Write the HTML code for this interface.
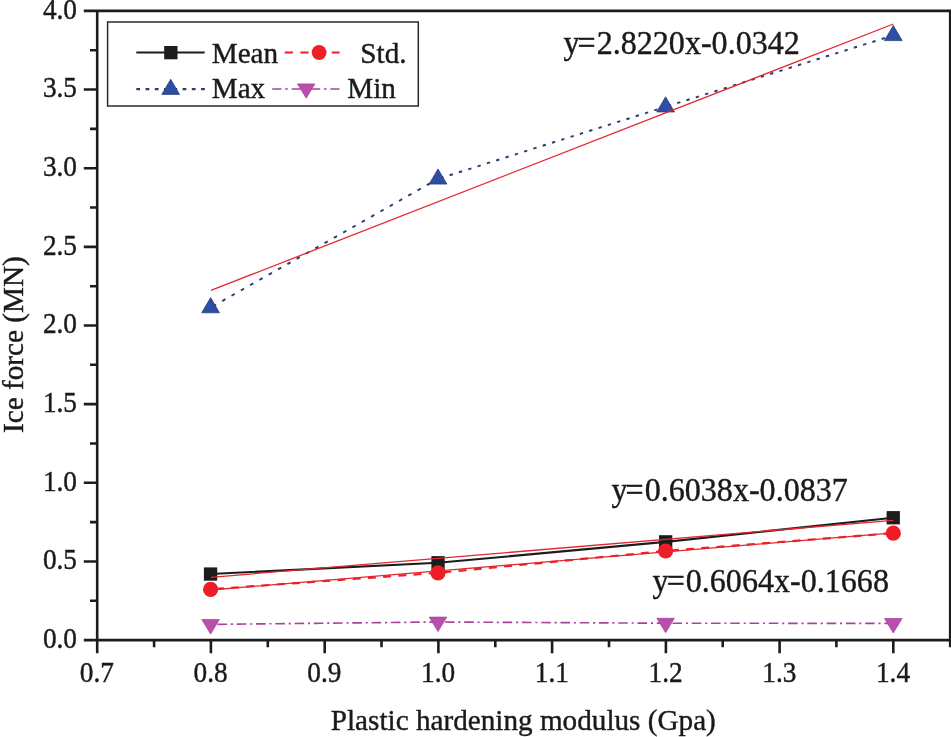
<!DOCTYPE html><html><head><meta charset="utf-8"><title>Ice force vs plastic hardening modulus</title>
<style>html,body{margin:0;padding:0;background:#fff}svg{display:block;will-change:transform}text{font-family:"Liberation Serif","DejaVu Serif",serif;fill:#1a1a1a;stroke:#1a1a1a;stroke-width:.4px}</style></head><body>
<svg width="951" height="737" viewBox="0 0 951 737">
<rect width="951" height="737" fill="#fff"/>
<g stroke="#1c1c1c" stroke-width="2.6" fill="none" stroke-linecap="butt">
<path d="M83.8 10.9H951 M83.8 640.1H951 M97.2 9.6V653.2 M950.2 9.6V647.2"/>
<path d="M83.8 561.5H97.2 M83.8 482.8H97.2 M83.8 404.1H97.2 M83.8 325.5H97.2 M83.8 246.9H97.2 M83.8 168.2H97.2 M83.8 89.5H97.2 M90 600.8H97.2 M90 522.1H97.2 M90 443.5H97.2 M90 364.8H97.2 M90 286.2H97.2 M90 207.5H97.2 M90 128.9H97.2 M90 50.2H97.2 M210.9 640.1V653.2 M324.7 640.1V653.2 M438.4 640.1V653.2 M552.1 640.1V653.2 M665.9 640.1V653.2 M779.6 640.1V653.2 M893.3 640.1V653.2 M154.1 640.1V647.2 M267.8 640.1V647.2 M381.5 640.1V647.2 M495.3 640.1V647.2 M609.0 640.1V647.2 M722.7 640.1V647.2 M836.4 640.1V647.2 "/>
</g>
<text transform="translate(77.0 648.0) scale(1 1.045)" font-size="27.3px" text-anchor="end">0.0</text>
<text transform="translate(77.0 569.4) scale(1 1.045)" font-size="27.3px" text-anchor="end">0.5</text>
<text transform="translate(77.0 490.7) scale(1 1.045)" font-size="27.3px" text-anchor="end">1.0</text>
<text transform="translate(77.0 412.0) scale(1 1.045)" font-size="27.3px" text-anchor="end">1.5</text>
<text transform="translate(77.0 333.4) scale(1 1.045)" font-size="27.3px" text-anchor="end">2.0</text>
<text transform="translate(77.0 254.8) scale(1 1.045)" font-size="27.3px" text-anchor="end">2.5</text>
<text transform="translate(77.0 176.1) scale(1 1.045)" font-size="27.3px" text-anchor="end">3.0</text>
<text transform="translate(77.0 97.4) scale(1 1.045)" font-size="27.3px" text-anchor="end">3.5</text>
<text transform="translate(77.0 18.8) scale(1 1.045)" font-size="27.3px" text-anchor="end">4.0</text>
<text transform="translate(96.9 681.6) scale(1 1.045)" font-size="27.3px" text-anchor="middle">0.7</text>
<text transform="translate(210.6 681.6) scale(1 1.045)" font-size="27.3px" text-anchor="middle">0.8</text>
<text transform="translate(324.4 681.6) scale(1 1.045)" font-size="27.3px" text-anchor="middle">0.9</text>
<text transform="translate(438.1 681.6) scale(1 1.045)" font-size="27.3px" text-anchor="middle">1.0</text>
<text transform="translate(551.8 681.6) scale(1 1.045)" font-size="27.3px" text-anchor="middle">1.1</text>
<text transform="translate(665.6 681.6) scale(1 1.045)" font-size="27.3px" text-anchor="middle">1.2</text>
<text transform="translate(779.3 681.6) scale(1 1.045)" font-size="27.3px" text-anchor="middle">1.3</text>
<text transform="translate(893.0 681.6) scale(1 1.045)" font-size="27.3px" text-anchor="middle">1.4</text>
<text transform="translate(523.3 729.7) scale(1 1.035)" font-size="29.2px" text-anchor="middle">Plastic hardening modulus (Gpa)</text>
<text transform="translate(22.6 344.6) rotate(-90) scale(1 1.035)" font-size="29.2px" text-anchor="middle">Ice force (MN)</text>
<polyline points="210.6,574.0 438.0,562.8 665.6,541.9 893.3,517.7" fill="none" stroke="#1c1c1c" stroke-width="2.1"/>
<line x1="210.6" y1="589.3" x2="438.0" y2="572.8" stroke="#f01c26" stroke-width="2.2" stroke-dasharray="8.02 7.22" stroke-dashoffset="9.93"/>
<line x1="438.0" y1="572.8" x2="665.6" y2="551.0" stroke="#f01c26" stroke-width="2.2" stroke-dasharray="8.04 7.23" stroke-dashoffset="9.95"/>
<line x1="665.6" y1="551.0" x2="893.3" y2="533.2" stroke="#f01c26" stroke-width="2.2" stroke-dasharray="8.02 7.22" stroke-dashoffset="9.93"/>
<line x1="210.6" y1="307.6" x2="438.0" y2="178.9" stroke="#2d3d72" stroke-width="1.95" stroke-dasharray="3.68 7.01" stroke-dashoffset="8.04"/>
<line x1="438.0" y1="178.9" x2="665.6" y2="106.8" stroke="#2d3d72" stroke-width="1.95" stroke-dasharray="3.36 6.40" stroke-dashoffset="7.34"/>
<line x1="665.6" y1="106.8" x2="893.3" y2="35.4" stroke="#2d3d72" stroke-width="1.95" stroke-dasharray="3.35 6.39" stroke-dashoffset="7.34"/>
<line x1="210.6" y1="624.4" x2="438.0" y2="622.0" stroke="#a5449e" stroke-width="1.65" stroke-dasharray="9.60 3.80 2.10 3.76" stroke-dashoffset="12.36"/>
<line x1="438.0" y1="622.0" x2="665.6" y2="623.2" stroke="#a5449e" stroke-width="1.65" stroke-dasharray="9.60 3.80 2.10 3.76" stroke-dashoffset="12.36"/>
<line x1="665.6" y1="623.2" x2="893.3" y2="623.4" stroke="#a5449e" stroke-width="1.65" stroke-dasharray="9.60 3.80 2.10 3.76" stroke-dashoffset="12.36"/>
<rect x="203.9" y="567.4" width="13.3" height="13.3" fill="#1c1c1c"/>
<rect x="431.4" y="556.1" width="13.3" height="13.3" fill="#1c1c1c"/>
<rect x="659.0" y="535.2" width="13.3" height="13.3" fill="#1c1c1c"/>
<rect x="886.6" y="511.1" width="13.3" height="13.3" fill="#1c1c1c"/>
<circle cx="210.6" cy="589.3" r="7.6" fill="#f01c26"/>
<circle cx="438.0" cy="572.8" r="7.6" fill="#f01c26"/>
<circle cx="665.6" cy="551.0" r="7.6" fill="#f01c26"/>
<circle cx="893.3" cy="533.2" r="7.6" fill="#f01c26"/>
<path d="M210.6 297.6L219.5 312.8H201.7Z" fill="#2e4ea6" stroke="#26346c" stroke-width="0.7"/>
<path d="M438.0 168.9L446.9 184.1H429.1Z" fill="#2e4ea6" stroke="#26346c" stroke-width="0.7"/>
<path d="M665.6 96.8L674.5 112.0H656.7Z" fill="#2e4ea6" stroke="#26346c" stroke-width="0.7"/>
<path d="M893.3 25.4L902.2 40.6H884.4Z" fill="#2e4ea6" stroke="#26346c" stroke-width="0.7"/>
<path d="M210.6 634.0L219.4 619.5H201.8Z" fill="#bb4dad" stroke="#9c4095" stroke-width="0.7"/>
<path d="M438.0 631.6L446.8 617.1H429.2Z" fill="#bb4dad" stroke="#9c4095" stroke-width="0.7"/>
<path d="M665.6 632.8L674.4 618.3H656.8Z" fill="#bb4dad" stroke="#9c4095" stroke-width="0.7"/>
<path d="M893.3 633.0L902.1 618.5H884.5Z" fill="#bb4dad" stroke="#9c4095" stroke-width="0.7"/>
<line x1="210.9" y1="290.4" x2="893.3" y2="24.0" stroke="#e3262f" stroke-width="1.3"/>
<line x1="210.9" y1="577.3" x2="893.3" y2="520.3" stroke="#e3262f" stroke-width="1.3"/>
<line x1="210.9" y1="590.0" x2="893.3" y2="532.8" stroke="#e3262f" stroke-width="1.3"/>
<text transform="translate(563.5 53.8) scale(1 1.035)" font-size="32.1px">y<tspan dx="-2">=</tspan><tspan dx="1.0">2.8220x-0.0342</tspan></text>
<text transform="translate(611.5 500.8) scale(1 1.035)" font-size="32.1px">y<tspan dx="-2">=</tspan><tspan dx="1.0">0.6038x-0.0837</tspan></text>
<text transform="translate(652.6 591.5) scale(1 1.035)" font-size="32.1px">y<tspan dx="-2">=</tspan><tspan dx="1.0">0.6064x-0.1668</tspan></text>
<rect x="107.6" y="22" width="310.7" height="84" fill="#fff" stroke="#2a2a2a" stroke-width="1.5"/>
<line x1="136.3" y1="52.5" x2="204.7" y2="52.5" stroke="#1c1c1c" stroke-width="2.2"/>
<rect x="164.2" y="46.0" width="13.3" height="13.3" fill="#1c1c1c"/>
<line x1="284.7" y1="52.5" x2="339.6" y2="52.5" stroke="#f01c26" stroke-width="2.2" stroke-dasharray="8.2 7.5"/>
<circle cx="319.1" cy="52.5" r="7.4" fill="#f01c26"/>
<line x1="136.3" y1="89.1" x2="205" y2="89.1" stroke="#2d3d72" stroke-width="2.2" stroke-dasharray="3.8 5.45"/>
<path d="M170.7 79.2L179.6 94.4H161.8Z" fill="#2e4ea6" stroke="#26346c" stroke-width="0.7"/>
<line x1="272.2" y1="89" x2="339.5" y2="89" stroke="#a5449e" stroke-width="1.7" stroke-dasharray="9.2 3.8 2.6 3.8"/>
<path d="M306.2 98.2L314.9 83.9H297.5Z" fill="#bb4dad" stroke="#9c4095" stroke-width="0.7"/>
<text transform="translate(211.7 62.5) scale(1 1.035)" font-size="29.2px">Mean</text>
<text transform="translate(360.3 62.5) scale(1 1.035)" font-size="29.2px">Std.</text>
<text transform="translate(211.7 98.4) scale(1 1.035)" font-size="29.2px">Max</text>
<text transform="translate(347.2 98.4) scale(1 1.035)" font-size="29.2px">Min</text>
</svg></body></html>
